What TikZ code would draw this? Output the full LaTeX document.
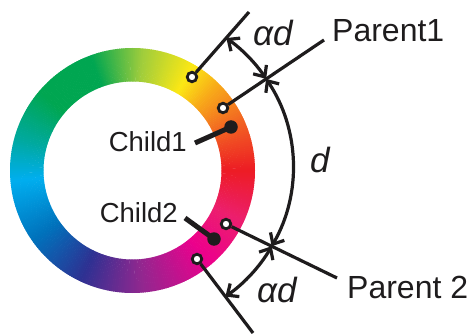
\documentclass[tikz,border=0pt]{standalone}
\usepackage{fontspec}
\setmainfont{Liberation Sans}
\usetikzlibrary{arrows.meta}
\definecolor{ink}{RGB}{30,28,29}
\definecolor{h0}{RGB}{237,28,36}
\definecolor{h1}{RGB}{242,101,34}
\definecolor{h2}{RGB}{248,170,25}
\definecolor{h3}{RGB}{252,232,20}
\definecolor{h4}{RGB}{160,205,60}
\definecolor{h5}{RGB}{0,166,81}
\definecolor{h6}{RGB}{0,166,81}
\definecolor{h7}{RGB}{0,169,160}
\definecolor{h8}{RGB}{0,174,239}
\definecolor{h9}{RGB}{0,114,188}
\definecolor{h10}{RGB}{46,49,146}
\definecolor{h11}{RGB}{146,39,143}
\definecolor{h12}{RGB}{236,0,140}
\definecolor{h13}{RGB}{236,30,110}
\begin{document}
\begin{tikzpicture}[x=1pt,y=1pt,
  open/.style={circle,draw=ink,fill=white,line width=2.8pt,minimum size=9.5pt,inner sep=0pt},
  dot/.style={circle,fill=ink,minimum size=13.5pt,inner sep=0pt},
  lead/.style={draw=ink,line width=3.2pt},
  childlead/.style={draw=ink,line width=5pt},
  dim/.style={draw=ink,line width=3.2pt,{Straight Barb[length=9pt,width=16pt]}-{Straight Barb[length=9pt,width=16pt]}},
  lbl/.style={inner sep=0pt,text=ink},
  small/.style={font=\fontsize{27.5}{27.5}\selectfont},
  big/.style={font=\fontsize{32}{32}\selectfont},
  sym/.style={font=\fontsize{35}{35}\selectfont\itshape}]
\useasboundingbox (0,0) rectangle (476,335);
\coordinate (O) at (132.5,164.5);
% colour ring
\begin{scope}[shift={(O)}]
\foreach \a/\b/\ca/\cb in {0/25/h0/h1,25/45/h1/h2,45/60/h2/h3,60/85/h3/h4,85/110/h4/h5,110/140/h5/h6,140/165/h6/h7,165/185/h7/h8,185/215/h8/h9,215/245/h9/h10,245/275/h10/h11,275/310/h11/h12,310/335/h12/h13,335/360/h13/h0}{
  \pgfmathtruncatemacro\n{\b-\a}
  \foreach \i in {1,...,\n}{
    \pgfmathsetmacro\p{100*(\i-0.5)/\n}
    \pgfmathsetmacro\t{\a+\i-1}
    \pgfmathsetmacro\u{\t+1.25}
    \fill[\cb!\p!\ca] (\t:122.5) arc[start angle=\t,end angle=\u,radius=122.5] -- (\u:89) arc[start angle=\u,end angle=\t,radius=89] -- cycle;
  }
}
\end{scope}
% points on the ring
\node[open] (a1) at (192,258) {};
\node[open] (p1) at (223,227) {};
\node[open] (p2) at (226,111) {};
\node[open] (a2) at (197,76) {};
\node[dot] (c1) at (231,208) {};
\node[dot] (c2) at (214,96) {};
% free ends of leader lines
\coordinate (e1) at (249,323);
\coordinate (e2) at (324,295);
\coordinate (e3) at (337,57);
\coordinate (e4) at (253,2);
\coordinate (k1) at (195,192);
\coordinate (k2) at (185,117);
\draw[lead] (a1) -- (e1);
\draw[lead] (p1) -- (e2);
\draw[lead] (p2) -- (e3);
\draw[lead] (a2) -- (e4);
\draw[childlead] (k1) -- (c1.center);
\draw[childlead] (k2) -- (c2.center);
% dimension arcs
\coordinate (C) at (135,168);
\coordinate (T1) at ([shift={(54.7:158)}]C);
\coordinate (S1) at ([shift={(33.9:158)}]C);
\coordinate (S2) at ([shift={(-30.1:158)}]C);
\coordinate (T2) at ([shift={(-55.1:158)}]C);
\draw[dim] (T1) arc[start angle=54.7,end angle=33.9,radius=158];
\draw[dim] (S1) arc[start angle=33.9,end angle=-30.1,radius=158];
\draw[dim] (S2) arc[start angle=-30.1,end angle=-55.1,radius=158];
% labels
\node[lbl,small,anchor=base east] (child1) at (187,183) {Child1};
\node[lbl,small,anchor=base east] (child2) at (178,113) {Child2};
\node[lbl,big,anchor=base west] (parent1) at (332,293) {Parent1};
\node[lbl,big,anchor=base west] (parent2) at (347,37) {Parent 2};
\node[lbl,sym,anchor=base west] (ad1) at (253,289) {αd};
\node[lbl,sym,anchor=base west] (dd) at (310,162) {d};
\node[lbl,sym,anchor=base west] (ad2) at (257,33) {αd};
\end{tikzpicture}
\end{document}
